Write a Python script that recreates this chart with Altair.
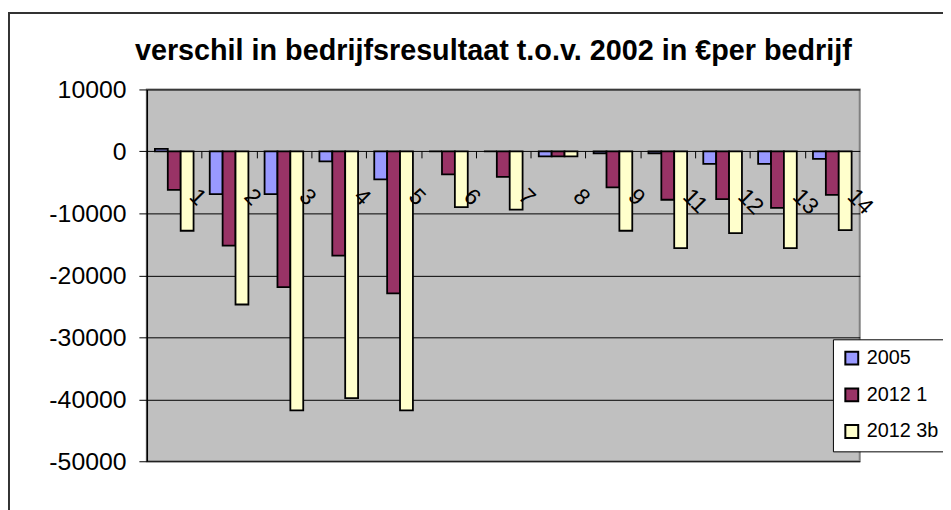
import altair as alt
import pandas as pd

categories = ["1", "2", "3", "4", "5", "6", "7", "8", "9", "11", "12", "13", "14"]
series_names = ["2005", "2012 1", "2012 3b"]
series_colors = ["#9999FF", "#993366", "#FFFFCC"]
v2005 = [400, -6900, -6900, -1600, -4500, 0, 0, -800, -300, -300, -2000, -2000, -1200]
v2012_1 = [-6200, -15200, -21900, -16800, -22900, -3700, -4100, -800, -5800, -7800, -7700, -9100, -7000]
v2012_3b = [-12800, -24700, -41800, -39800, -41800, -9000, -9400, -800, -12800, -15600, -13200, -15600, -12700]
y_ticks = [-50000, -40000, -30000, -20000, -10000, 0, 10000]
title_text = "verschil in bedrijfsresultaat t.o.v. 2002 in €per bedrijf"

rows = []
for name, vals in zip(series_names, [v2005, v2012_1, v2012_3b]):
    for c, v in zip(categories, vals):
        rows.append({"cat": c, "series": name, "value": v})
df = pd.DataFrame(rows)
labels_df = pd.DataFrame({"cat": categories, "value": [0] * len(categories)})

W, H = 719, 375
step = W / len(categories)

x_enc = alt.X(
    "cat:N", sort=categories,
    scale=alt.Scale(paddingInner=0.295, paddingOuter=0.1475),
    axis=alt.Axis(title=None, labels=False, domain=False, ticks=True, tickSize=7,
                  tickColor="black", tickWidth=1, tickOffset=-step / 2, offset=-313, grid=False),
)
y_enc = alt.Y(
    "value:Q",
    scale=alt.Scale(domain=[-50000, 10000], nice=False, zero=False),
    axis=alt.Axis(title=None, values=y_ticks, labelExpr="datum.value + ''", labelFontSize=25,
                  labelColor="black", tickSize=8, tickColor="black", labelPadding=13,
                  grid=True, gridColor="black", gridWidth=1, domainColor="black", domainWidth=1.5),
)

frame = alt.Chart(pd.DataFrame({"a": [0]})).mark_rect(
    fillOpacity=0, stroke="#333333", strokeWidth=2
).encode(
    x=alt.value(-139), x2=alt.value(W + 200), y=alt.value(-77), y2=alt.value(H + 200)
)

bars = alt.Chart(df).mark_bar(stroke="black", strokeWidth=1.8).encode(
    x=x_enc,
    y=y_enc,
    xOffset=alt.XOffset("series:N", sort=series_names, scale=alt.Scale(paddingInner=0, paddingOuter=0)),
    color=alt.Color(
        "series:N", sort=series_names,
        scale=alt.Scale(domain=series_names, range=series_colors),
        legend=alt.Legend(title=None, orient="none", legendX=692, legendY=252,
                          fillColor="white", strokeColor="black", padding=9, rowPadding=15,
                          symbolType="square", symbolSize=169, symbolStrokeColor="black",
                          symbolStrokeWidth=2, labelFontSize=20, labelOffset=5,
                          labelColor="black"),
    ),
)

labels = alt.Chart(labels_df).mark_text(
    angle=45, align="left", baseline="middle", dx=43, dy=16, fontSize=23, color="black"
).encode(
    x=x_enc,
    y=y_enc,
    text="cat:N",
)

chart = alt.layer(frame, bars, labels).properties(
    width=W, height=H,
    padding={"left": 140, "top": 80, "right": 84, "bottom": 47},
    autosize=alt.AutoSizeParams(type="none"),
    title=alt.Title(title_text, fontSize=29, fontWeight="bold", font="Liberation Sans",
                    anchor="middle", dx=-10, offset=-54, color="black"),
).configure(font="Liberation Sans").configure_view(
    fill="#C0C0C0", stroke="#808080", strokeWidth=2
)

chart.save("out.html", embed_options={"renderer": "svg", "actions": False})
